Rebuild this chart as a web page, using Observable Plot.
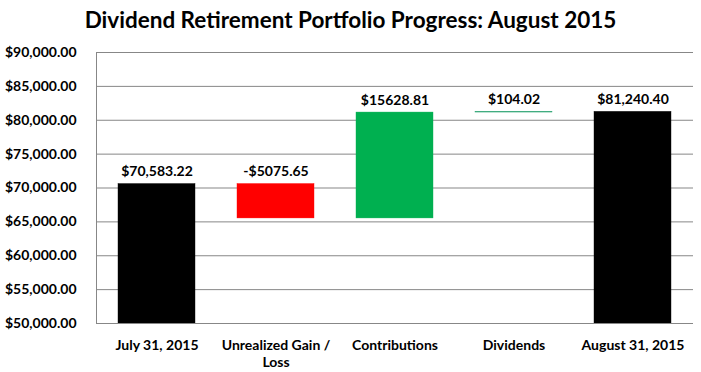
<!DOCTYPE html>
<html>
<head>
<meta charset="utf-8">
<script src="https://cdn.jsdelivr.net/npm/d3@7"></script>
<script src="https://cdn.jsdelivr.net/npm/@observablehq/plot@0.6"></script>
<style>
  html, body { margin: 0; padding: 0; background: #fff; overflow: hidden; }
  #title { height: 40px; width: 701px; font-family: Lato, sans-serif; font-weight: bold; font-size: 22.5px; text-align: center; line-height: 40px; color: #000; }
  #chart svg { display: block; overflow: visible; }
</style>
</head>
<body>
<div id="title">Dividend Retirement Portfolio Progress: August 2015</div>
<div id="chart"></div>
<script>
const categories = ["July 31, 2015", "Unrealized Gain / Loss", "Contributions", "Dividends", "August 31, 2015"];
const tickLabels = ["July 31, 2015", "Unrealized Gain /\nLoss", "Contributions", "Dividends", "August 31, 2015"];
const changes = [70583.22, -5075.65, 15628.81, 104.02, 81240.40];
const isTotal = [true, false, false, false, true];
const valueLabels = ["$70,583.22", "-$5075.65", "$15628.81", "$104.02", "$81,240.40"];
const colors = ["#000000", "#ff0000", "#00b050", "#1f9e6a", "#000000"];
const yTicks = [50000, 55000, 60000, 65000, 70000, 75000, 80000, 85000, 90000];

let running = 0;
const rows = categories.map((c, i) => {
  let lo, hi;
  if (isTotal[i]) { lo = 0; hi = changes[i]; running = changes[i]; }
  else { const prev = running; running = prev + changes[i]; lo = Math.min(prev, running); hi = Math.max(prev, running); }
  return { cat: c, lo, hi, label: valueLabels[i], color: colors[i] };
});

const chart = Plot.plot({
  width: 701,
  height: 332,
  marginTop: 12,
  marginBottom: 49,
  marginLeft: 96,
  marginRight: 8,
  style: { fontFamily: "Lato, sans-serif", fontWeight: "bold", fontSize: "13px", color: "#000", overflow: "visible" },
  x: { domain: categories, paddingInner: 0.355, paddingOuter: 0.1775, label: null },
  y: { domain: [50000, 90000], label: null },
  marks: [
    Plot.ruleY(yTicks, { stroke: "#878787", strokeWidth: 1 }),
    Plot.rectY(rows, { x: "cat", y1: "lo", y2: "hi", fill: "color", stroke: "color", strokeWidth: 0.4, clip: true }),
    Plot.text(rows, { x: "cat", y: "hi", text: "label", dy: -8, lineAnchor: "bottom", fontSize: 14, fontWeight: "bold", fill: "#000" }),
    Plot.axisY({ ticks: yTicks, tickSize: 0, tickPadding: 20, tickFormat: d => "$" + d3.format(",.2f")(d), fontSize: 14, fontWeight: "bold" }),
    Plot.axisX({ tickSize: 0, tickPadding: 14, tickFormat: d => tickLabels[categories.indexOf(d)], lineHeight: 1.25, fontSize: 14, fontWeight: "bold" }),
    Plot.frame({ anchor: "left", stroke: "#878787" })
  ]
});
document.getElementById("chart").appendChild(chart);
</script>
</body>
</html>
